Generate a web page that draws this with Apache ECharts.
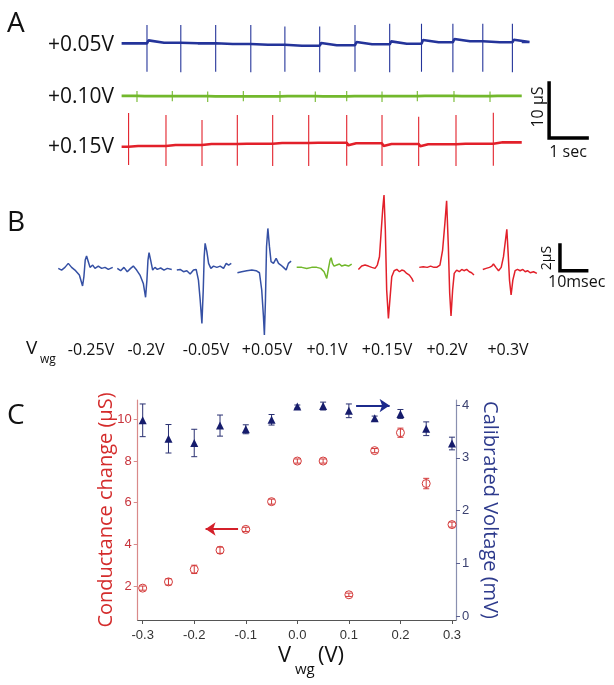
<!DOCTYPE html>
<html>
<head>
<meta charset="utf-8">
<script src="https://cdn.jsdelivr.net/npm/echarts@6/dist/echarts.min.js"></script>
<style>
html, body { margin: 0; padding: 0; background: #fff; }
#chart { width: 614px; height: 685px; }
</style>
</head>
<body>
<div id="chart"></div>
<script>
// ---------- panel A : spike trains (sec, uS) ----------
const traceEnd = 10.53
const blueSpikeT = [0.668, 1.558, 2.476, 3.40, 4.297, 5.213, 6.142, 7.055, 7.892, 8.718, 9.505, 10.284]
const blueTops = [28.2, 28.2, 28.2, 28.2, 27.9, 27.9, 28.2, 28.4, 28.4, 28.4, 28.4, 28.4]
const blueBottoms = [19.7, 19.6, 19.7, 19.6, 19.7, 19.6, 19.7, 19.6, 19.7, 19.6, 19.7, 19.6]
const blueLevels = [24.85, 24.96, 24.85, 24.73, 24.6, 24.42, 24.49, 24.67, 24.78, 25.04, 25.22, 25.04, 25.09]

const greenSpikeT = [0.405, 1.334, 2.266, 3.203, 4.168, 5.097, 5.924, 6.853, 7.782, 8.747, 9.695]
const greenTops = [16.2, 16.2, 16.1, 16.2, 16.2, 16.1, 16.2, 16.1, 16.2, 16.2, 16.1]
const greenBottoms = [14.2, 14.3, 14.2, 14.3, 14.2, 14.2, 14.3, 14.2, 14.3, 14.2, 14.2]
const greenLevels = [15.3, 15.25, 15.25, 15.2, 15.2, 15.25, 15.2, 15.25, 15.25, 15.3, 15.25, 15.3]

const redSpikeT = [0.184, 1.168, 2.116, 3.045, 3.976, 4.924, 5.924, 6.853, 7.818, 8.8, 9.782]
const redTops = [12.18, 11.82, 10.91, 11.82, 11.82, 11.82, 11.82, 11.82, 11.51, 11.82, 12.24]
const redBottoms = [2.73, 2.55, 2.55, 2.6, 2.55, 2.55, 2.6, 2.55, 2.55, 2.55, 2.6]
const redLevels = [6.05, 6.18, 6.36, 6.55, 6.6, 6.73, 6.78, 6.67, 6.55, 6.49, 6.6, 6.85]

const traceLabels = ['+0.05V', '+0.10V', '+0.15V']
const scaleA = { x: 11.25, y: 7.64, dx: 1, dy: 10 }   // 1 sec, 10 uS

// ---------- panel B : averaged waveforms (msec, uS) ----------
const waveStart = [0.1, 22.2, 44.5, 67.2, 89.4, 112.5, 135.3, 159.1]
const waveM025 = [[0,0.05],[1.25,-0.08],[2.5,0.13],[3.75,0.44],[5,0.13],[6.25,-0.08],[7.9,-0.47],[9.1,-1.32],[9.6,-0.6],[10.1,0.7],[10.6,1.01],[11.25,0.57],[11.9,0.13],[12.9,0.31],[13.75,0.05],[15,0.23],[16.25,0.05],[17.5,0.13],[18.75,-0.03],[20.4,0.13]]
const waveM020 = [[0,0.05],[1.25,-0.13],[2.5,0.13],[3.75,-0.21],[5,0.05],[6,0.23],[7.25,-0.08],[8.5,-0.47],[9.75,-1.12],[10.6,-2.2],[11.1,-0.86],[11.5,0.7],[11.9,1.27],[12.5,0.7],[13.25,-0.08],[14.1,0.13],[15,-0.03],[16.25,0.08],[17.5,-0.08],[18.75,0.05],[20.4,-0.03]]
const waveM005 = [[0,-0.08],[1.25,-0.03],[2.5,-0.21],[3.75,-0.13],[5,-0.39],[6.25,-0.08],[7.25,-0.03],[8.1,-0.86],[8.75,-2.41],[9.4,-4.23],[9.9,-1.63],[10.25,0.96],[10.6,2.0],[11.25,1.35],[11.9,0.44],[12.75,0.05],[13.75,0.23],[15,0.13],[16.25,0.23],[17.5,0.05],[18.5,0.44],[19.4,0.31],[20.4,0.44]]
const waveP005 = [[0,-0.29],[1.6,-0.21],[3.5,-0.13],[5.4,-0.08],[7,-0.13],[8.25,-0.29],[9.1,-1.63],[9.75,-3.71],[10.1,-5.14],[10.5,-2.41],[10.9,1.74],[11.4,3.16],[12,1.74],[12.6,0.57],[13.5,0.44],[14.5,0.83],[15.4,0.44],[16.25,0.31],[17.25,0.13],[18.25,-0.08],[19.1,0.44],[20.1,0.62]]
const waveP010 = [[0,0.13],[1.9,0.13],[3.75,0.05],[5.6,0.13],[7.5,0.13],[9,0.05],[10.25,-0.21],[11.25,-0.73],[11.9,0.05],[12.5,0.7],[12.9,0.88],[13.4,0.44],[14,0.23],[15,0.31],[16,0.39],[16.9,0.23],[18.1,0.31],[19.4,0.23],[20.6,0.39]]
const waveP015 = [[0,-0.03],[1.25,0.23],[2.5,0.31],[3.75,0.23],[5,0.13],[6.25,0.05],[7.1,0.31],[7.9,0.96],[8.5,2.8],[9.1,4.62],[9.6,5.76],[10.1,3.04],[10.6,-1.63],[11.25,-3.84],[11.9,-2.15],[12.5,-0.6],[13.4,-0.13],[14.4,-0.03],[15.4,-0.21],[16.25,-0.08],[17.1,-0.13],[18.1,-0.34],[19.1,-0.47],[20,-0.73],[20.6,-0.99]]
const waveP020 = [[0,0.13],[1.5,0.18],[3,0.13],[4.25,0.23],[5.5,0.13],[6.5,0.13],[7.75,0.31],[8.75,1.48],[9.6,3.55],[10.25,5.32],[10.9,1.74],[11.4,-1.89],[11.9,-3.66],[12.5,-1.63],[13.1,-0.34],[14,-0.08],[15,-0.21],[15.9,-0.03],[16.75,-0.13],[17.75,-0.03],[18.75,-0.21],[19.6,-0.29],[20.5,-0.47]]
const waveP030 = [[0,-0.03],[1.25,0.05],[2.5,0.13],[3.4,0.23],[4,0.39],[4.9,0.13],[5.9,-0.13],[6.9,0.13],[7.75,0.96],[8.5,2.26],[9,3.09],[9.5,1.22],[10,-0.86],[10.6,-2.02],[11.25,-0.86],[12.1,-0.13],[13,-0.03],[14,-0.13],[15,-0.03],[15.9,-0.21],[16.75,-0.13],[17.75,-0.29],[19,-0.21],[20.25,-0.34]]
const waveLabels = ['-0.25V', '-0.2V', '-0.05V', '+0.05V', '+0.1V', '+0.15V', '+0.2V', '+0.3V']
const scaleB = { x: 188, y: -0.13, dx: 10, dy: 2 }   // 10 msec, 2 uS

// ---------- panel C : summary ----------
const vwg = [-0.3, -0.25, -0.2, -0.15, -0.1, -0.05, 0, 0.05, 0.1, 0.15, 0.2, 0.25, 0.3]
const condVals = [1.9, 2.2, 2.8, 3.72, 4.72, 6.05, 8.0, 8.0, 1.58, 8.5, 9.36, 6.92, 4.95]
const condErr = [0.1, 0.15, 0.2, 0.15, 0.1, 0.12, 0.1, 0.1, 0.08, 0.1, 0.22, 0.25, 0.12]
const voltVals = [3.71, 3.36, 3.28, 3.61, 3.54, 3.72, 3.97, 3.98, 3.89, 3.75, 3.83, 3.55, 3.27]
const voltErr = [0.31, 0.27, 0.26, 0.2, 0.085, 0.1, 0.03, 0.075, 0.13, 0.04, 0.085, 0.13, 0.12]
const xTicks = [-0.3, -0.2, -0.1, 0, 0.1, 0.2, 0.3]
const condTicks = [2, 4, 6, 8, 10]
const voltTicks = [0, 1, 2, 3, 4]
const condArrow = [[-0.115, 4.74], [-0.178, 4.74]]
const voltArrow = [[0.114, 3.99], [0.179, 3.99]]

const BLUE_A = '#24349a'
const GREEN = '#72b82c'
const RED = '#e2202a'
const BLUE_B = '#3550a4'
const RED_C = '#d43a3a'
const NAVY = '#161c6c'
const SANS = '"Open Sans", "Noto Sans", sans-serif'

// baseline with small step after each spike
function buildBase(spikes, levels, bump, bumpLen) {
  const d = [[0, levels[0]]]
  spikes.forEach((t, i) => {
    d.push([t, levels[i]])
    d.push([t + 0.04, levels[i + 1] + bump])
    d.push([t + bumpLen, levels[i + 1]])
  })
  d.push([traceEnd, levels[levels.length - 1]])
  return d
}
// thin vertical spikes
function buildSpikes(spikes, tops, bottoms) {
  const d = []
  spikes.forEach((t, i) => {
    d.push([t, tops[i]], [t, bottoms[i]], '-')
  })
  return d
}
function lineSeries(xi, data, color, width) {
  return {
    type: 'line', xAxisIndex: xi, yAxisIndex: xi, data: data, showSymbol: false,
    lineStyle: { color: color, width: width }, connectNulls: false, silent: true, clip: false
  }
}
function scaleBar(xi, s) {
  const s1 = lineSeries(xi, [[s.x, s.y + s.dy], [s.x, s.y], [s.x + s.dx, s.y]], '#000', 3.5)
  s1.lineStyle.cap = 'square'
  s1.lineStyle.join = 'miter'
  return s1
}
function errSeries(yi, vals, errs, color) {
  return {
    type: 'custom', xAxisIndex: 2, yAxisIndex: yi, silent: true,
    data: vwg.map((x, i) => [x, vals[i] - errs[i], vals[i] + errs[i]]),
    encode: { x: 0, y: [1, 2] },
    renderItem(params, api) {
      const top = api.coord([api.value(0), api.value(2)])
      const bot = api.coord([api.value(0), api.value(1)])
      const w = 3
      const st = { stroke: color, lineWidth: 1 }
      return {
        type: 'group', children: [
          { type: 'line', shape: { x1: top[0], y1: top[1], x2: bot[0], y2: bot[1] }, style: st },
          { type: 'line', shape: { x1: top[0] - w, y1: top[1], x2: top[0] + w, y2: top[1] }, style: st },
          { type: 'line', shape: { x1: bot[0] - w, y1: bot[1], x2: bot[0] + w, y2: bot[1] }, style: st }
        ]
      }
    }
  }
}
function txt(text, x, y, size, opts) {
  const o = opts || {}
  return {
    type: 'text', x: x, y: y, rotation: o.rot || 0, silent: true,
    style: {
      text: text, x: 0, y: 0, fill: o.color || '#111',
      font: size + 'px ' + SANS,
      textAlign: o.align || 'left', textVerticalAlign: 'middle'
    }
  }
}

const waves = [waveM025, waveM020, waveM005, waveP005, waveP010, waveP015, waveP020, waveP030]
const waveColors = [BLUE_B, BLUE_B, BLUE_B, BLUE_B, GREEN, RED, RED, RED]
const waveLabelX = [91, 146, 206, 267, 327, 387, 447, 508]
const traceLabelY = [45, 97, 147]

const series = [
  lineSeries(0, buildBase(blueSpikeT, blueLevels, 0.42, 0.45), BLUE_A, 2.6),
  lineSeries(0, buildSpikes(blueSpikeT, blueTops, blueBottoms), BLUE_A, 1.1),
  lineSeries(0, buildBase(greenSpikeT, greenLevels, 0, 0.2), GREEN, 2.6),
  lineSeries(0, buildSpikes(greenSpikeT, greenTops, greenBottoms), GREEN, 1.1),
  lineSeries(0, buildBase(redSpikeT, redLevels, -0.35, 0.25), RED, 2.6),
  lineSeries(0, buildSpikes(redSpikeT, redTops, redBottoms), RED, 1.1),
  scaleBar(0, scaleA),
  scaleBar(1, scaleB)
]
waves.forEach((w, i) => {
  series.push(lineSeries(1, w.map(p => [waveStart[i] + p[0], p[1]]), waveColors[i], 1.5))
})
series.push(
  errSeries(3, voltVals, voltErr, '#2a3172'),
  errSeries(2, condVals, condErr, RED_C),
  {
    type: 'scatter', xAxisIndex: 2, yAxisIndex: 2, symbol: 'circle', symbolSize: 8,
    data: vwg.map((x, i) => [x, condVals[i]]),
    itemStyle: { color: 'rgba(255,255,255,0)', borderColor: RED_C, borderWidth: 1, opacity: 1 }, silent: true
  },
  {
    type: 'scatter', xAxisIndex: 2, yAxisIndex: 3, symbol: 'triangle', symbolSize: 8,
    data: vwg.map((x, i) => [x, voltVals[i]]),
    itemStyle: { color: NAVY, opacity: 1 }, silent: true
  },
  {
    type: 'lines', coordinateSystem: 'cartesian2d', xAxisIndex: 2, yAxisIndex: 2,
    symbol: ['none', 'arrow'], symbolSize: 10, silent: true,
    lineStyle: { color: '#d4202a', width: 2, opacity: 1 },
    data: [{ coords: condArrow }]
  },
  {
    type: 'lines', coordinateSystem: 'cartesian2d', xAxisIndex: 2, yAxisIndex: 3,
    symbol: ['none', 'arrow'], symbolSize: 10, silent: true,
    lineStyle: { color: '#1c2a8c', width: 2, opacity: 1 },
    data: [{ coords: voltArrow }]
  }
)

const graphics = [
  txt('A', 7, 24, 28),
  txt('B', 7, 223, 28),
  txt('C', 7, 416, 28),
  txt('10 µS', 538, 107, 16, { align: 'center', rot: Math.PI / 2 }),
  txt('1 sec', 568, 152, 16, { align: 'center' }),
  txt('2µS', 547, 258, 14, { align: 'center', rot: Math.PI / 2 }),
  txt('10msec', 548, 282, 16),
  txt('V', 26, 349, 19),
  txt('wg', 40, 360, 12),
  txt('V', 278, 656, 22),
  txt('wg', 295, 670, 15),
  txt('(V)', 318, 656, 22)
]
traceLabels.forEach((t, i) => graphics.push(txt(t, 114, traceLabelY[i], 21, { align: 'right' })))
waveLabels.forEach((t, i) => graphics.push(txt(t, waveLabelX[i], 350, 16, { align: 'center' })))

const tickFont = { fontFamily: '"Liberation Sans", Arial, sans-serif', fontSize: 13 }

const option = {
  animation: false,
  backgroundColor: '#fff',
  grid: [
    { left: 121.6, top: 9.5, width: 475, height: 170.5 },
    { left: 58, top: 179.1, width: 534, height: 160.6 },
    { left: 137.7, top: 400, width: 318.3, height: 220 }
  ],
  xAxis: [
    { gridIndex: 0, type: 'value', min: 0, max: 12.5, show: false },
    { gridIndex: 1, type: 'value', min: 0, max: 200, show: false },
    {
      gridIndex: 2, type: 'value', min: -0.3097, max: 0.3078,
      axisLine: { onZero: false, lineStyle: { color: '#555', width: 1 } },
      axisTick: { customValues: xTicks, length: 4, lineStyle: { color: '#555' } },
      axisLabel: Object.assign({ customValues: xTicks, formatter: v => v.toFixed(1), color: '#333', margin: 9 }, tickFont),
      splitLine: { show: false }
    }
  ],
  yAxis: [
    { gridIndex: 0, type: 'value', min: 0, max: 31, show: false },
    { gridIndex: 1, type: 'value', min: -5.5, max: 7, show: false },
    {
      gridIndex: 2, type: 'value', position: 'left', min: 0.37, max: 10.93,
      axisLine: { show: true, onZero: false, lineStyle: { color: '#d98a8a', width: 1.2 } },
      axisTick: { show: true, customValues: condTicks, length: 4, lineStyle: { color: '#d98a8a' } },
      axisLabel: Object.assign({ customValues: condTicks, color: '#c8343c', margin: 6 }, tickFont),
      splitLine: { show: false },
      name: 'Conductance change (µS)', nameLocation: 'middle', nameRotate: 90, nameGap: 21,
      nameMoveOverlap: false,
      nameTextStyle: { color: '#d42c2c', fontSize: 20, fontFamily: SANS }
    },
    {
      gridIndex: 2, type: 'value', position: 'right', min: -0.076, max: 4.095,
      axisLine: { show: true, onZero: false, lineStyle: { color: '#8a90b0', width: 1.2 } },
      axisTick: { show: true, customValues: voltTicks, length: 4, lineStyle: { color: '#5a6090' } },
      axisLabel: Object.assign({ customValues: voltTicks, color: '#3b4170', margin: 6 }, tickFont),
      splitLine: { show: false },
      name: 'Calibrated Voltage (mV)', nameLocation: 'middle', nameRotate: -90, nameGap: 24,
      nameMoveOverlap: false,
      nameTextStyle: { color: '#2d3a8c', fontSize: 20, fontFamily: SANS }
    }
  ],
  graphic: graphics,
  series: series
}

const chart = echarts.init(document.getElementById('chart'))
chart.setOption(option)
</script>
</body>
</html>
